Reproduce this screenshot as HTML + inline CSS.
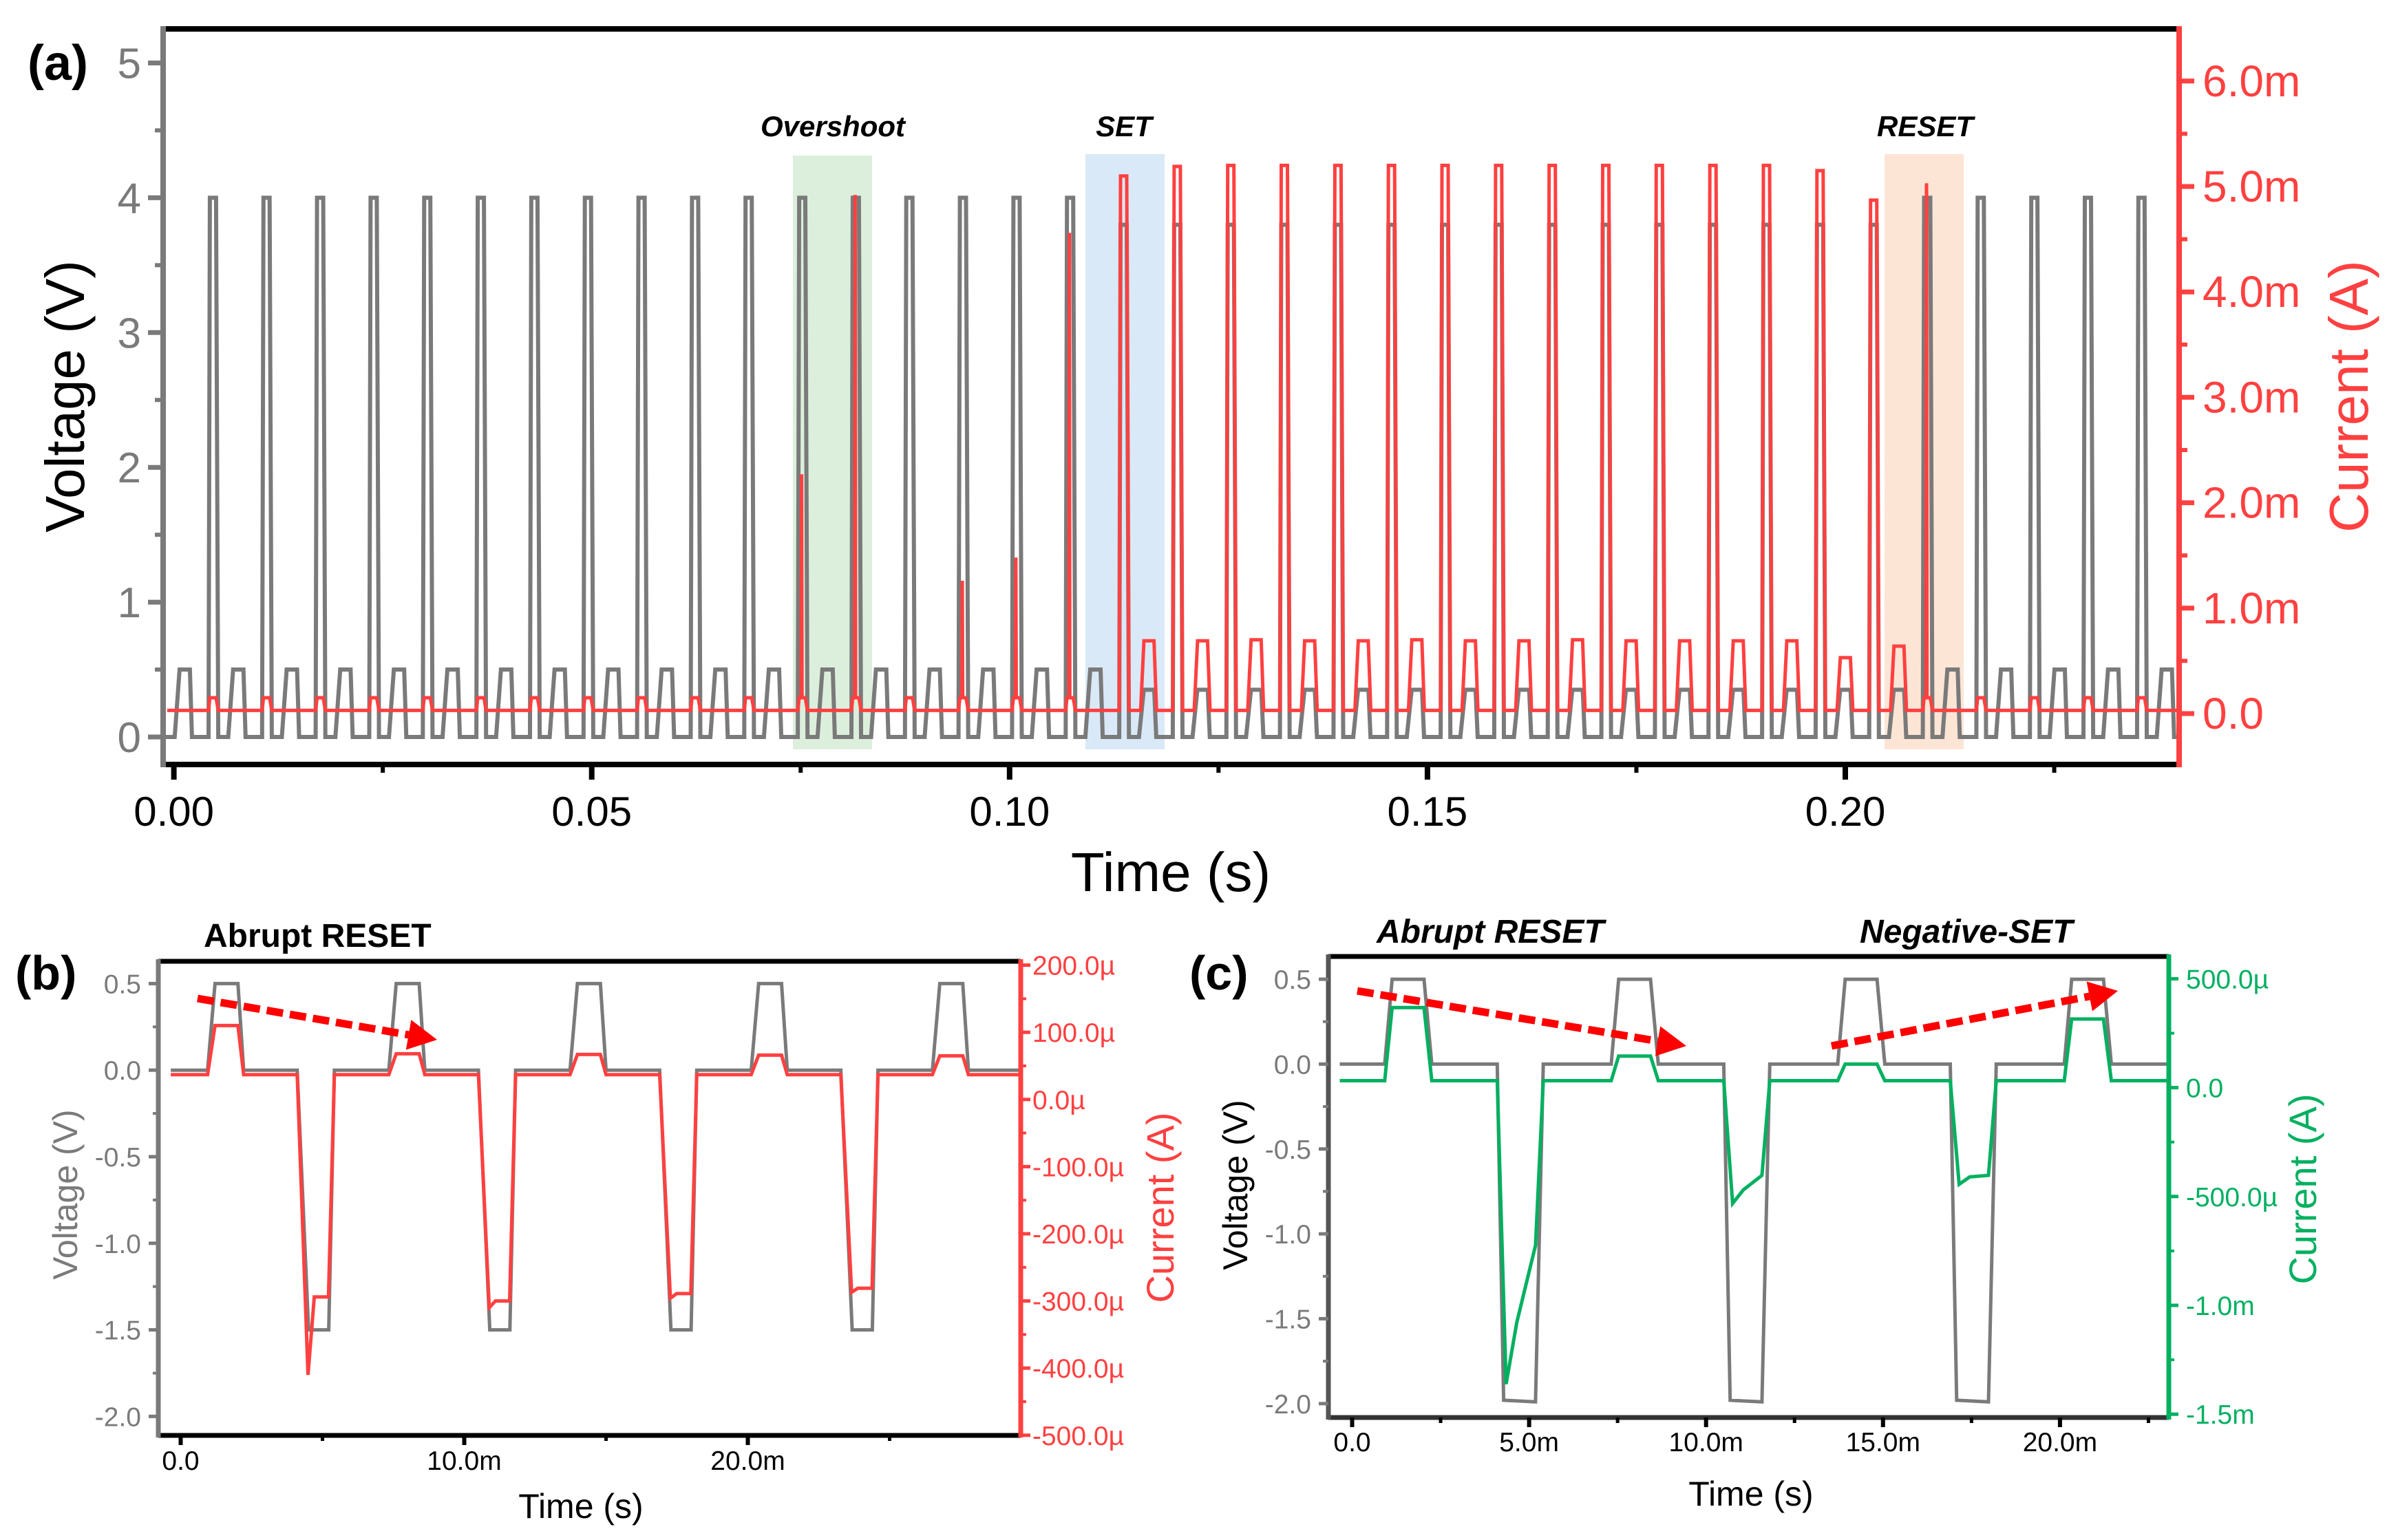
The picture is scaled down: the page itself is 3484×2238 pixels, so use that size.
<!DOCTYPE html>
<html><head><meta charset="utf-8"><style>
html,body{margin:0;padding:0;background:#fff}
svg{display:block}
text{font-family:"Liberation Sans",Arial,sans-serif}
</style></head><body>
<svg id="fig" xmlns="http://www.w3.org/2000/svg" width="3484" height="2238" viewBox="0 0 3484 2238"></svg>
<script>
// ---------- Panel (a) data ----------
const aPeriod = 0.00641;               // s
const aReadV = [0.5,0.5,0.5,0.5,0.5,0.5,0.5,0.5,0.5,0.5,0.5,0.5,0.5,0.5,0.5,0.5,0.5,0.5,0.35,0.35,0.35,0.35,0.35,0.35,0.35,0.35,0.35,0.35,0.35,0.35,0.35,0.35,0.35,0.5,0.5,0.5,0.5,0.5];
const aReadI = [0.03,0.03,0.03,0.03,0.03,0.03,0.03,0.03,0.03,0.03,0.03,0.03,0.03,0.03,0.03,0.03,0.03,0.03,0.69,0.69,0.70,0.69,0.69,0.70,0.69,0.69,0.70,0.69,0.69,0.69,0.69,0.53,0.64,0.03,0.03,0.03,0.03,0.03];
const aBigV = [4,4,4,4,4,4,4,4,4,4,4,4,4,4,4,4,4,3.8,3.8,3.8,3.8,3.8,3.8,3.8,3.8,3.8,3.8,3.8,3.8,3.8,3.8,3.8,4,4,4,4,4];
const aBigI = [0.15,0.15,0.15,0.15,0.15,0.15,0.15,0.15,0.15,0.15,0.15,0.15,0.15,0.15,0.15,0.15,0.15,5.1,5.19,5.2,5.2,5.2,5.2,5.2,5.2,5.2,5.2,5.2,5.2,5.2,5.15,4.87,0.15,0.15,0.15,0.15,0.15];
const aSpikeI = [0,0,0,0,0,0,0,0,0,0,0,2.27,4.92,0,1.26,1.48,4.56,0,0,0,0,0,0,0,0,0,0,0,0,0,0,0,5.03,0,0,0,0];
const aXTicks = [0,0.05,0.10,0.15,0.20];
const aXTickLabels = ["0.00","0.05","0.10","0.15","0.20"];
const aVTicks = [0,1,2,3,4,5];
const aITicks = [0,1,2,3,4,5,6];
const aITickLabels = ["0.0","1.0m","2.0m","3.0m","4.0m","5.0m","6.0m"];
const aBase = 0.03;

// ---------- Panel (b) data ----------
const bPeriod = 6.39; // ms
const bPosI = [110,68,67,66,65];
const bNegPeak = [-410,-310,-296,-287];
const bNegPlat = [-294,-300,-289,-281];
const bBase = 37;
const bVTicks = [0.5,0,-0.5,-1,-1.5,-2];
const bVTickLabels = ["0.5","0.0","-0.5","-1.0","-1.5","-2.0"];
const bITicks = [200,100,0,-100,-200,-300,-400,-500];
const bITickLabels = ["200.0\u00b5","100.0\u00b5","0.0\u00b5","-100.0\u00b5","-200.0\u00b5","-300.0\u00b5","-400.0\u00b5","-500.0\u00b5"];
const bXTicks = [0,10,20];
const bXTickLabels = ["0.0","10.0m","20.0m"];

// ---------- Panel (c) data ----------
const cPeriod = 6.4; // ms
const cPosI = [368,145,108,315];
const cNegPeak = [-1362,-532,-444];
const cNegMid = [-1080,-470,-410];
const cNegEnd = [-725,-403,-403];
const cBase = 32;
const cVTicks = [0.5,0,-0.5,-1,-1.5,-2];
const cVTickLabels = ["0.5","0.0","-0.5","-1.0","-1.5","-2.0"];
const cITicks = [500,0,-500,-1000,-1500];
const cITickLabels = ["500.0\u00b5","0.0","-500.0\u00b5","-1.0m","-1.5m"];
const cXTicks = [0,5,10,15,20];
const cXTickLabels = ["0.0","5.0m","10.0m","15.0m","20.0m"];

const NS = "http://www.w3.org/2000/svg";
const svg = document.getElementById('fig');
function mk(tag, attrs, parent){const e=document.createElementNS(NS,tag);for(const k in attrs)e.setAttribute(k,attrs[k]);(parent||svg).appendChild(e);return e;}
function txt(s, attrs){const e=mk('text',attrs);e.textContent=s;return e;}
function ptsToD(p){return 'M'+p.map(q=>q[0].toFixed(1)+','+q[1].toFixed(1)).join('L');}

const GRAY="#7a7a7a", RED="#ff4040", GREEN="#00b060";
const SF=39;

// ================= Panel (a) =================
const xA = t => 252.6 + t*12142;
const yV = v => 1071 - v*195.9;
const yI = i => 1037 - i*153.2;
const aL=237,aR=3166,aT=42,aB=1111;

let e;
e = mk('rect',{x:1152,y:226,width:115,height:863,fill:"#dcefdc"});


e = mk('rect',{x:1577,y:224,width:115,height:865,fill:"#d9e9f7"});


e = mk('rect',{x:2738,y:224,width:115,height:865,fill:"#fde5d6"});



let gp=[[xA(-0.0013),yV(0)]];
for(let k=0;k<aReadV.length;k++){
  const tr=0.0001+k*aPeriod;
  if(xA(tr)>aR)break;
  gp.push([xA(tr),yV(0)],[xA(tr+0.00058),yV(aReadV[k])],[xA(tr+0.00182),yV(aReadV[k])],[xA(tr+0.00207),yV(0)]);
  if(k<aBigV.length){
    const tb=0.00415+k*aPeriod;
    gp.push([xA(tb),yV(0)],[xA(tb+0.00016),yV(aBigV[k])],[xA(tb+0.0009),yV(aBigV[k])],[xA(tb+0.00116),yV(0)]);
  }
}
gp.push([aR-2,yV(0)]);
e = mk('path',{d:ptsToD(gp),fill:"none",stroke:GRAY,"stroke-width":6,"stroke-linejoin":"miter"});



let rp=[[xA(-0.0008),yI(aBase)]];
for(let k=0;k<aReadI.length;k++){
  const tr=0.0001+k*aPeriod;
  if(xA(tr)>aR)break;
  if(aReadI[k]>aBase+0.01){
    rp.push([xA(tr+0.0002),yI(aBase)],[xA(tr+0.0006),yI(aReadI[k])],[xA(tr+0.0018),yI(aReadI[k])],[xA(tr+0.0021),yI(aBase)]);
  }
  if(k<aBigI.length){
    const tb=0.00415+k*aPeriod;
    rp.push([xA(tb),yI(aBase)],[xA(tb+0.00016),yI(aBigI[k])]);
    if(aSpikeI[k]>0){
      rp.push([xA(tb+0.0004),yI(aBigI[k])],[xA(tb+0.00045),yI(aSpikeI[k])],[xA(tb+0.0005),yI(aBigI[k])]);
    }
    rp.push([xA(tb+0.0009),yI(aBigI[k])],[xA(tb+0.00116),yI(aBase)]);
  }
}
rp.push([aR-2,yI(aBase)]);
e = mk('path',{d:ptsToD(rp),fill:"none",stroke:RED,"stroke-width":5});



e = mk('line',{x1:aL,y1:aT,x2:aR,y2:aT,stroke:"#000","stroke-width":8});


e = mk('line',{x1:aL,y1:aB,x2:aR,y2:aB,stroke:"#000","stroke-width":8});


e = mk('line',{x1:aL,y1:aT-4,x2:aL,y2:aB+4,stroke:GRAY,"stroke-width":8});


e = mk('line',{x1:aR,y1:aT-4,x2:aR,y2:aB+4,stroke:RED,"stroke-width":8});



for(let i=0;i<aXTicks.length;i++){
  const x=xA(aXTicks[i]);
  e = mk('line',{x1:x,y1:aB,x2:x,y2:aB+22,stroke:"#000","stroke-width":8});
  
  
  e = txt(aXTickLabels[i],{x:x,y:1200,"font-size":60,"text-anchor":"middle",fill:"#000"});
  
  
  const xm=xA(aXTicks[i]+0.025);
  if(xm<aR){
    e = mk('line',{x1:xm,y1:aB,x2:xm,y2:aB+12,stroke:"#000","stroke-width":6});
    
    
  }
}
for(let i=0;i<aVTicks.length;i++){
  const y=yV(aVTicks[i]);
  e = mk('line',{x1:aL-22,y1:y,x2:aL,y2:y,stroke:GRAY,"stroke-width":7});
  
  
  e = txt(String(aVTicks[i]),{x:205,y:y+22,"font-size":62,"text-anchor":"end",fill:GRAY});
  
  
  if(i<aVTicks.length-1){
    const ym=yV(aVTicks[i]+0.5);
    e = mk('line',{x1:aL-12,y1:ym,x2:aL,y2:ym,stroke:GRAY,"stroke-width":6});
    
    
  }
}
for(let i=0;i<aITicks.length;i++){
  const y=yI(aITicks[i]);
  e = mk('line',{x1:aR,y1:y,x2:aR+22,y2:y,stroke:RED,"stroke-width":7});
  
  
  e = txt(aITickLabels[i],{x:3200,y:y+22,"font-size":64,fill:RED});
  
  
  const ym=yI(aITicks[i]+0.5);
  if(ym>aT){
    e = mk('line',{x1:aR,y1:ym,x2:aR+12,y2:ym,stroke:RED,"stroke-width":6});
    
    
  }
}
e = txt("Time (s)",{x:1701,y:1295,"font-size":80,"text-anchor":"middle",fill:"#000"});


e = txt("Voltage (V)",{x:0,y:0,"font-size":80,"text-anchor":"middle",fill:"#000",transform:"translate(122,576) rotate(-90)"});


e = txt("Current (A)",{x:0,y:0,"font-size":80,"text-anchor":"middle",fill:RED,transform:"translate(3440,576) rotate(-90)"});


e = txt("(a)",{x:40,y:116,"font-size":72,"font-weight":"bold",fill:"#000"});


e = txt("Overshoot",{x:1210,y:198,"font-size":42,"font-weight":"bold","font-style":"italic","text-anchor":"middle",fill:"#000"});


e = txt("SET",{x:1633,y:198,"font-size":42,"font-weight":"bold","font-style":"italic","text-anchor":"middle",fill:"#000"});


e = txt("RESET",{x:2797,y:198,"font-size":42,"font-weight":"bold","font-style":"italic","text-anchor":"middle",fill:"#000"});



function arrow(x1,y1,x2,y2,name){
  const g=mk('g',{});
  
  
  const dx=x2-x1,dy=y2-y1,L=Math.hypot(dx,dy),ux=dx/L,uy=dy/L;
  const hl=42,hw=22;
  const bx=x2-ux*hl,by=y2-uy*hl;
  mk('line',{x1:x1,y1:y1,x2:bx,y2:by,stroke:"#ff0000","stroke-width":11,"stroke-dasharray":"24 10"},g);
  mk('polygon',{points:`${x2},${y2} ${bx-uy*hw},${by+ux*hw} ${bx+uy*hw},${by-ux*hw}`,fill:"#ff0000"},g);
}

// ================= Panel (b) =================
const xB = t => 262.5 + t*41.2;
const yBV = v => 1555.2 - v*251.6;
const yBI = i => 1597.8 - i*0.976;
const bL=230,bR=1483,bT=1397,bB=2086;

let bg=[[xB(-0.35),yBV(0)]];
for(let k=0;k<bPosI.length;k++){
  const t0=0.95+k*bPeriod;
  bg.push([xB(t0),yBV(0)],[xB(t0+0.26),yBV(0.5)],[xB(t0+1.07),yBV(0.5)],[xB(t0+1.27),yBV(0)]);
  if(k<bNegPeak.length){
    const t1=4.11+k*bPeriod;
    bg.push([xB(t1),yBV(0)],[xB(t1+0.4),yBV(-1.5)],[xB(t1+1.11),yBV(-1.5)],[xB(t1+1.31),yBV(0)]);
  }
}
bg.push([bR-2,yBV(0)]);
e = mk('path',{d:ptsToD(bg),fill:"none",stroke:GRAY,"stroke-width":5});



let br=[[xB(-0.35),yBI(bBase)]];
for(let k=0;k<bPosI.length;k++){
  const t0=0.95+k*bPeriod;
  br.push([xB(t0),yBI(bBase)],[xB(t0+0.26),yBI(bPosI[k])],[xB(t0+1.07),yBI(bPosI[k])],[xB(t0+1.27),yBI(bBase)]);
  if(k<bNegPeak.length){
    const t1=4.11+k*bPeriod;
    br.push([xB(t1),yBI(bBase)],[xB(t1+0.38),yBI(bNegPeak[k])],[xB(t1+0.6),yBI(bNegPlat[k])],[xB(t1+1.1),yBI(bNegPlat[k])],[xB(t1+1.31),yBI(bBase)]);
  }
}
br.push([bR-2,yBI(bBase)]);
e = mk('path',{d:ptsToD(br),fill:"none",stroke:RED,"stroke-width":5});



e = mk('line',{x1:bL,y1:bT,x2:bR,y2:bT,stroke:"#000","stroke-width":7});


e = mk('line',{x1:bL,y1:bB,x2:bR,y2:bB,stroke:"#000","stroke-width":7});


e = mk('line',{x1:bL,y1:bT-3,x2:bL,y2:bB+3,stroke:GRAY,"stroke-width":7});


e = mk('line',{x1:bR,y1:bT-3,x2:bR,y2:bB+3,stroke:RED,"stroke-width":7});



for(let i=0;i<bXTicks.length;i++){
  const x=xB(bXTicks[i]);
  e = mk('line',{x1:x,y1:bB,x2:x,y2:bB+14,stroke:"#000","stroke-width":6});
  
  
  e = txt(bXTickLabels[i],{x:x,y:2136,"font-size":SF,"text-anchor":"middle",fill:"#000"});
  
  
  const xm=xB(bXTicks[i]+5);
  e = mk('line',{x1:xm,y1:bB,x2:xm,y2:bB+8,stroke:"#000","stroke-width":5});
  
  
}
for(let i=0;i<bVTicks.length;i++){
  const y=yBV(bVTicks[i]);
  e = mk('line',{x1:bL-14,y1:y,x2:bL,y2:y,stroke:GRAY,"stroke-width":5});
  
  
  e = txt(bVTickLabels[i],{x:205,y:y+14,"font-size":SF,"text-anchor":"end",fill:GRAY});
  
  
  if(i<bVTicks.length-1){
    const ym=yBV(bVTicks[i]-0.25);
    e = mk('line',{x1:bL-8,y1:ym,x2:bL,y2:ym,stroke:GRAY,"stroke-width":4});
    
    
  }
}
for(let i=0;i<bITicks.length;i++){
  const y=yBI(bITicks[i]);
  e = mk('line',{x1:bR,y1:y,x2:bR+14,y2:y,stroke:RED,"stroke-width":5});
  
  
  e = txt(bITickLabels[i],{x:1500,y:y+14,"font-size":SF,fill:RED});
  
  
  if(i<bITicks.length-1){
    const ym=yBI(bITicks[i]-50);
    e = mk('line',{x1:bR,y1:ym,x2:bR+8,y2:ym,stroke:RED,"stroke-width":4});
    
    
  }
}
e = txt("Time (s)",{x:844,y:2206,"font-size":50,"text-anchor":"middle",fill:"#000"});


e = txt("Voltage (V)",{x:0,y:0,"font-size":50,"text-anchor":"middle",fill:GRAY,transform:"translate(112,1736) rotate(-90)"});


e = txt("Current (A)",{x:0,y:0,"font-size":56,"text-anchor":"middle",fill:RED,transform:"translate(1705,1755) rotate(-90)"});


e = txt("(b)",{x:22,y:1438,"font-size":70,"font-weight":"bold",fill:"#000"});


e = txt("Abrupt RESET",{x:296,y:1376,"font-size":48,"font-weight":"bold",fill:"#000"});


arrow(287,1451,635,1511,'trend-arrow-b');

// ================= Panel (c) =================
const xC = t => 1964.5 + t*51.42;
const yCV = v => 1546.4 - v*246.7;
const yCI = i => 1580.6 - i*0.3164;
const cL=1930,cR=3151,cT=1390,cB=2060;

let cg=[[xC(-0.35),yCV(0)]];
for(let k=0;k<cPosI.length;k++){
  const t0=0.92+k*cPeriod;
  cg.push([xC(t0),yCV(0)],[xC(t0+0.21),yCV(0.5)],[xC(t0+1.11),yCV(0.5)],[xC(t0+1.33),yCV(0)]);
  if(k<cNegPeak.length){
    const t1=4.1+k*cPeriod;
    cg.push([xC(t1),yCV(0)],[xC(t1+0.18),yCV(-1.98)],[xC(t1+1.08),yCV(-1.99)],[xC(t1+1.3),yCV(0)]);
  }
}
cg.push([cR-2,yCV(0)]);
e = mk('path',{d:ptsToD(cg),fill:"none",stroke:GRAY,"stroke-width":5});



let cr=[[xC(-0.35),yCI(cBase)]];
for(let k=0;k<cPosI.length;k++){
  const t0=0.92+k*cPeriod;
  cr.push([xC(t0),yCI(cBase)],[xC(t0+0.21),yCI(cPosI[k])],[xC(t0+1.11),yCI(cPosI[k])],[xC(t0+1.33),yCI(cBase)]);
  if(k<cNegPeak.length){
    const t1=4.1+k*cPeriod;
    cr.push([xC(t1),yCI(cBase)],[xC(t1+0.25),yCI(cNegPeak[k])],[xC(t1+0.55),yCI(cNegMid[k])],[xC(t1+1.08),yCI(cNegEnd[k])],[xC(t1+1.3),yCI(cBase)]);
  }
}
cr.push([cR-2,yCI(cBase)]);
e = mk('path',{d:ptsToD(cr),fill:"none",stroke:GREEN,"stroke-width":5});



e = mk('line',{x1:cL,y1:cT,x2:cR,y2:cT,stroke:"#000","stroke-width":7});


e = mk('line',{x1:cL,y1:cB,x2:cR,y2:cB,stroke:"#333","stroke-width":7});


e = mk('line',{x1:cL,y1:cT-3,x2:cL,y2:cB+3,stroke:"#555","stroke-width":7});


e = mk('line',{x1:cR,y1:cT-3,x2:cR,y2:cB+3,stroke:GREEN,"stroke-width":7});



for(let i=0;i<cXTicks.length;i++){
  const x=xC(cXTicks[i]);
  e = mk('line',{x1:x,y1:cB,x2:x,y2:cB+14,stroke:"#000","stroke-width":6});
  
  
  e = txt(cXTickLabels[i],{x:x,y:2109,"font-size":SF,"text-anchor":"middle",fill:"#000"});
  
  
  const xm=xC(cXTicks[i]+2.5);
  e = mk('line',{x1:xm,y1:cB,x2:xm,y2:cB+8,stroke:"#000","stroke-width":5});
  
  
}
for(let i=0;i<cVTicks.length;i++){
  const y=yCV(cVTicks[i]);
  e = mk('line',{x1:cL-14,y1:y,x2:cL,y2:y,stroke:GRAY,"stroke-width":5});
  
  
  e = txt(cVTickLabels[i],{x:1905,y:y+14,"font-size":SF,"text-anchor":"end",fill:GRAY});
  
  
  if(i<cVTicks.length-1){
    const ym=yCV(cVTicks[i]-0.25);
    e = mk('line',{x1:cL-8,y1:ym,x2:cL,y2:ym,stroke:GRAY,"stroke-width":4});
    
    
  }
}
for(let i=0;i<cITicks.length;i++){
  const y=yCI(cITicks[i]);
  e = mk('line',{x1:cR,y1:y,x2:cR+14,y2:y,stroke:GREEN,"stroke-width":5});
  
  
  e = txt(cITickLabels[i],{x:3176,y:y+14,"font-size":SF,fill:GREEN});
  
  
  if(i<cITicks.length-1){
    const ym=yCI(cITicks[i]-250);
    e = mk('line',{x1:cR,y1:ym,x2:cR+8,y2:ym,stroke:GREEN,"stroke-width":4});
    
    
  }
}
e = txt("Time (s)",{x:2544,y:2188,"font-size":50,"text-anchor":"middle",fill:"#000"});


e = txt("Voltage (V)",{x:0,y:0,"font-size":50,"text-anchor":"middle",fill:"#000",transform:"translate(1812,1722) rotate(-90)"});


e = txt("Current (A)",{x:0,y:0,"font-size":56,"text-anchor":"middle",fill:GREEN,transform:"translate(3365,1728) rotate(-90)"});


e = txt("(c)",{x:1728,y:1438,"font-size":70,"font-weight":"bold",fill:"#000"});


e = txt("Abrupt RESET",{x:2000,y:1370,"font-size":48,"font-weight":"bold","font-style":"italic",fill:"#000"});


e = txt("Negative-SET",{x:2702,y:1370,"font-size":48,"font-weight":"bold","font-style":"italic",fill:"#000"});


arrow(1972,1440,2450,1520,'trend-arrow-c-down');
arrow(2661,1520,3077,1440,'trend-arrow-c-up');
</script>
</body></html>
